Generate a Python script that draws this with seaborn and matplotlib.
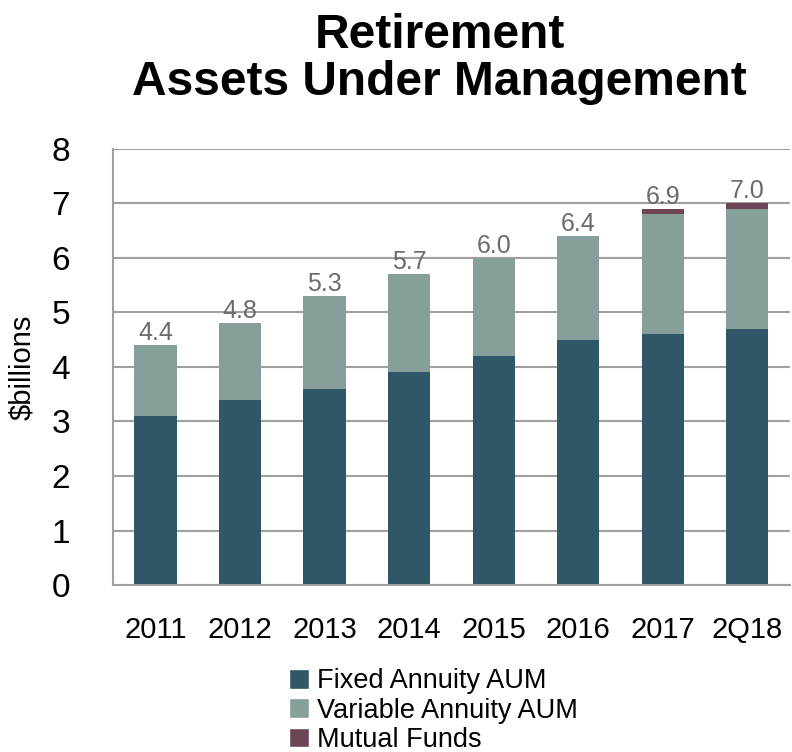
import numpy as np
import pandas as pd
import matplotlib.pyplot as plt
import seaborn as sns
from matplotlib.patches import Patch

periods = ["2011", "2012", "2013", "2014", "2015", "2016", "2017", "2Q18"]
fixed = [3.1, 3.4, 3.6, 3.9, 4.2, 4.5, 4.6, 4.7]
variable = [1.3, 1.4, 1.7, 1.8, 1.8, 1.9, 2.2, 2.2]
mutual = [0.0, 0.0, 0.0, 0.0, 0.0, 0.0, 0.1, 0.1]
totals = ["4.4", "4.8", "5.3", "5.7", "6.0", "6.4", "6.9", "7.0"]

series_names = ["Fixed Annuity AUM", "Variable Annuity AUM", "Mutual Funds"]
colors = ["#2F5767", "#869F9B", "#6B4556"]

df = pd.DataFrame({"period": periods, "fixed": fixed,
                   "variable": variable, "mutual": mutual})

sns.set_style("white")
plt.rcParams['font.family'] = ['Liberation Sans', 'DejaVu Sans']
plt.rcParams['text.color'] = 'black'
plt.rcParams['xtick.color'] = 'black'
plt.rcParams['ytick.color'] = 'black'
plt.rcParams['axes.labelcolor'] = 'black'

fig = plt.figure(figsize=(7.92, 7.52), dpi=100)
ax = fig.add_axes([0.143, 0.222, 0.854, 0.58])

# stacked bars
bottom = np.zeros(len(df))
for col, c in zip(["fixed", "variable", "mutual"], colors):
    sns.barplot(data=df, x="period", y=col, color=c, bottom=bottom,
                width=0.5, ax=ax, saturation=1, linewidth=0)
    bottom = bottom + df[col].values

# total labels
for i, lab in enumerate(totals):
    ax.text(i, bottom[i] + 0.0, lab, ha="center", va="bottom",
            fontsize=18, color="#6B6B6B")

ax.set_ylim(0, 8)
ax.set_xlim(-0.5, len(periods) - 0.5)
ax.set_yticks(range(0, 9))
ax.tick_params(axis="y", labelsize=24, length=6, width=1.2,
               color="#A0A0A0", direction="out", pad=25, labelcolor="black")
ax.tick_params(axis="x", which="major", labelsize=21, length=0, pad=22)
ax.set_xticks(np.arange(-0.5, len(periods), 1.0), minor=True)
ax.tick_params(axis="x", which="minor", length=8, width=1.2, color="#A0A0A0",
               direction="out")
ax.yaxis.grid(True, color="#A0A0A0", linewidth=1.5)
ax.set_axisbelow(True)
for s in ["top", "right"]:
    ax.spines[s].set_visible(False)
for s in ["left", "bottom"]:
    ax.spines[s].set_color("#A0A0A0")
    ax.spines[s].set_linewidth(1.5)

ax.set_xlabel("")
ax.set_ylabel(r"\$billions", fontsize=21, labelpad=11)

fig.text(0.555, 0.922, "Retirement\nAssets Under Management", ha="center",
         va="center", fontsize=34.5, fontweight="bold", linespacing=1.05)

handles = [Patch(facecolor=c, label=n) for c, n in zip(colors, series_names)]
fig.legend(handles=handles, loc="center", bbox_to_anchor=(0.547, 0.055),
           frameon=False, fontsize=19.5, handlelength=0.75, handleheight=0.75,
           handletextpad=0.3, labelspacing=0.12, borderaxespad=0)

fig.savefig("out.png", dpi=100)
